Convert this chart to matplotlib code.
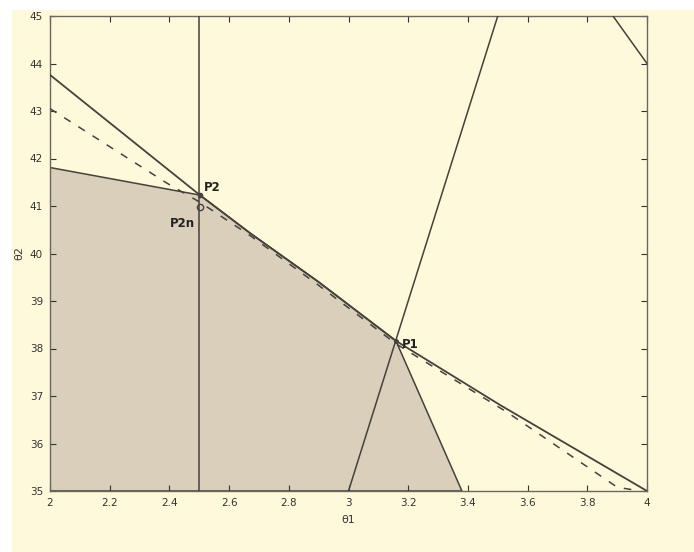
import matplotlib
matplotlib.use("Agg")
import matplotlib.pyplot as plt
from matplotlib.patches import Rectangle, Polygon

# ---- data ----
upper_x = [2.0, 2.502, 2.67, 2.90, 3.159, 3.508, 4.0]
upper_y = [43.76, 41.23, 40.43, 39.40, 38.16, 36.81, 35.0]

dashed_x = [2.0, 2.392, 2.502, 2.67, 2.90, 3.159, 3.531, 3.90, 3.977]
dashed_y = [43.05, 41.48, 41.08, 40.38, 39.33, 38.10, 36.66, 35.08, 35.0]

region_x = [2.0, 2.0, 2.502, 2.67, 2.90, 3.159, 3.38]
region_y = [35.0, 41.81, 41.23, 40.43, 39.40, 38.16, 35.0]

vline_x = 2.5
steep_x = [3.0, 3.5]
steep_y = [35.0, 45.0]
corner_x = [3.886, 4.0]
corner_y = [45.0, 44.0]

points = {"P2": (2.502, 41.23), "P2n": (2.502, 40.98), "P1": (3.159, 38.16)}

xticks = [2, 2.2, 2.4, 2.6, 2.8, 3, 3.2, 3.4, 3.6, 3.8, 4]
xticklabels = ["2", "2.2", "2.4", "2.6", "2.8", "3", "3.2", "3.4", "3.6", "3.8", "4"]
yticks = list(range(35, 46))

cream = "#fff9db"
shade = "#dacfbb"
ink = "#45413b"

fig = plt.figure(figsize=(6.94, 5.52), dpi=100, facecolor="white")
fig.patches.append(Rectangle((12 / 694, 0), 1, (552 - 10) / 552,
                             transform=fig.transFigure, facecolor=cream,
                             edgecolor="none", zorder=-10))

ax = fig.add_axes([50 / 694, (552 - 491) / 552, 597 / 694, 475 / 552])
ax.set_facecolor(cream)

poly = Polygon(list(zip(region_x, region_y)), closed=True, facecolor=shade,
               edgecolor=ink, linewidth=1.1, zorder=1)
ax.add_patch(poly)

ax.plot(upper_x, upper_y, color=ink, lw=1.3, zorder=3)
ax.plot(dashed_x, dashed_y, color=ink, lw=1.1, ls=(0, (5, 6)), zorder=3)
ax.axvline(vline_x, color=ink, lw=1.1, zorder=3)
ax.plot(steep_x, steep_y, color=ink, lw=1.1, zorder=3)
ax.plot(corner_x, corner_y, color=ink, lw=1.1, zorder=3)

ax.plot(*points["P2"], marker="o", ms=3, color=ink, zorder=4)
ax.plot(*points["P2n"], marker="o", ms=4.5, mfc="none", mec=ink, mew=1.0, zorder=4)
ax.plot(*points["P1"], marker="o", ms=2.5, color=ink, zorder=4)

ax.text(2.515, 41.32, "P2", fontsize=8.5, fontweight="bold", color="#222", zorder=5)
ax.text(2.40, 40.55, "P2n", fontsize=8.5, fontweight="bold", color="#222", zorder=5)
ax.text(3.18, 38.0, "P1", fontsize=8.5, fontweight="bold", color="#222", zorder=5)

ax.set_xlim(2, 4)
ax.set_ylim(35, 45)
ax.set_xticks(xticks)
ax.set_xticklabels(xticklabels)
ax.set_yticks(yticks)
ax.tick_params(direction="in", top=True, right=True, length=4, width=0.8,
               labelsize=7.5, colors="#333", pad=5)
for s in ax.spines.values():
    s.set_color("#6a6660")
    s.set_linewidth(1.0)

ax.set_xlabel("θ1", fontsize=8, color="#333", labelpad=5)
ax.set_ylabel("θ2", fontsize=8, color="#333", labelpad=4)

fig.savefig("out.png", dpi=100, facecolor=fig.get_facecolor())
